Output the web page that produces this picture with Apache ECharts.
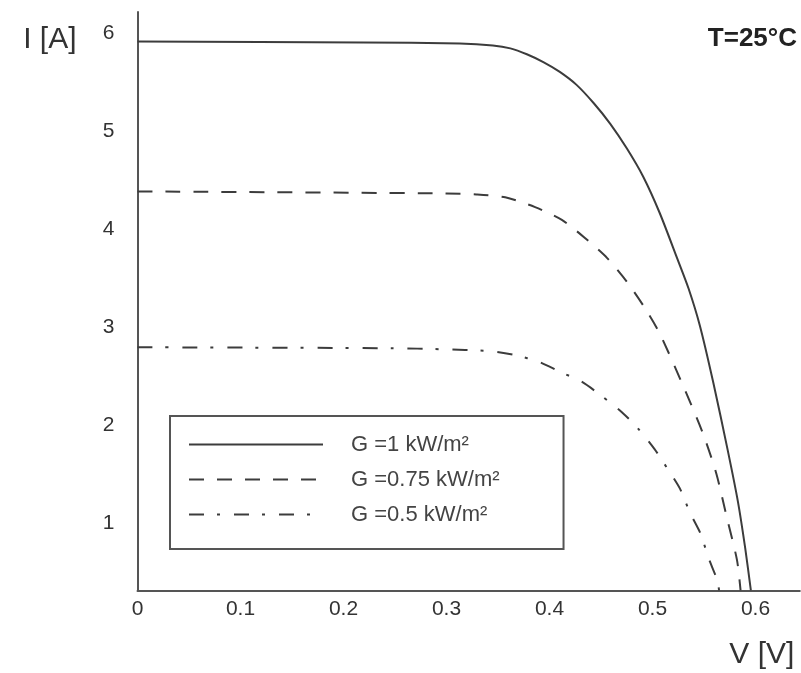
<!DOCTYPE html>
<html>
<head>
<meta charset="utf-8">
<script src="https://cdn.jsdelivr.net/npm/echarts@6/dist/echarts.min.js"></script>
<style>
  html, body { margin: 0; padding: 0; background: #fff; }
  #chart { width: 801px; height: 673px; }
</style>
</head>
<body>
<div id="chart"></div>
<script>
// I-V characteristics of a solar cell at three irradiance levels (T = 25 °C)
const seriesNames = ['G =1 kW/m²', 'G =0.75 kW/m²', 'G =0.5 kW/m²'];

// [V, I] pairs for G = 1 kW/m²
const curveG100 = [
  [0, 6.00], [0.219, 5.99], [0.313, 5.98], [0.345, 5.96], [0.362, 5.93],
  [0.378, 5.87], [0.394, 5.79], [0.410, 5.69], [0.426, 5.56], [0.443, 5.37],
  [0.459, 5.16], [0.475, 4.91], [0.491, 4.62], [0.507, 4.25], [0.5235, 3.80],
  [0.535, 3.48], [0.546, 3.10], [0.559, 2.52], [0.573, 1.83], [0.583, 1.30],
  [0.590, 0.83], [0.5955, 0.40]
];

// [V, I] pairs for G = 0.75 kW/m²
const curveG075 = [
  [0, 4.47], [0.300, 4.45], [0.329, 4.44], [0.357, 4.41], [0.386, 4.31],
  [0.412, 4.18], [0.435, 3.99], [0.456, 3.79], [0.475, 3.55], [0.492, 3.29],
  [0.507, 3.02], [0.530, 2.48], [0.549, 2.00], [0.562, 1.59], [0.572, 1.15],
  [0.582, 0.71], [0.5855, 0.40]
];

// [V, I] pairs for G = 0.5 kW/m²
const curveG050 = [
  [0, 2.88], [0.249, 2.87], [0.294, 2.86], [0.342, 2.84], [0.3665, 2.80],
  [0.390, 2.73], [0.410, 2.63], [0.431, 2.53], [0.451, 2.38], [0.470, 2.22],
  [0.486, 2.05], [0.502, 1.84], [0.514, 1.65], [0.527, 1.43], [0.536, 1.20],
  [0.547, 0.97], [0.554, 0.74], [0.563, 0.50], [0.5646, 0.40]
];

const xTicks = [0, 0.1, 0.2, 0.3, 0.4, 0.5, 0.6];
const yTicks = [1, 2, 3, 4, 5, 6];

const FONT = "'Liberation Sans', Arial, Helvetica, sans-serif";
const INK = '#3c3c3c';

const chart = echarts.init(document.getElementById('chart'), null, { renderer: 'canvas' });

function curve(name, data, dash) {
  return {
    name: name,
    type: 'line',
    data: data,
    smooth: 0.25,
    symbol: 'none',
    clip: true,
    lineStyle: { color: INK, width: 2, type: dash },
    itemStyle: { color: INK },
    emphasis: { disabled: true }
  };
}

chart.setOption({
  animation: false,
  backgroundColor: '#ffffff',
  textStyle: { fontFamily: FONT },
  grid: { left: 137.5, right: 1.2, top: 12.1, bottom: 82.7, containLabel: false },
  xAxis: {
    type: 'value',
    min: 0,
    max: 0.643,
    name: 'V [V]',
    nameLocation: 'end',
    nameGap: -38,
    nameTextStyle: {
      fontFamily: FONT, fontSize: 30, color: '#333',
      align: 'center', verticalAlign: 'top', padding: [49, 0, 0, 0]
    },
    axisLine: { show: true, lineStyle: { color: '#555', width: 2 } },
    axisTick: { show: false },
    splitLine: { show: false },
    axisLabel: {
      customValues: xTicks,
      formatter: v => (v === 0 ? '0' : v.toFixed(1)),
      fontFamily: FONT, fontSize: 21, color: '#333', margin: 8
    }
  },
  yAxis: {
    type: 'value',
    min: 0.4,
    max: 6.3,
    name: 'I [A]',
    nameLocation: 'end',
    nameGap: -28,
    nameTextStyle: {
      fontFamily: FONT, fontSize: 30, color: '#333',
      align: 'right', verticalAlign: 'middle', padding: [0, 61, 0, 0]
    },
    axisLine: { show: true, onZero: false, lineStyle: { color: '#555', width: 2 } },
    axisTick: { show: false },
    splitLine: { show: false },
    axisLabel: {
      customValues: yTicks,
      fontFamily: FONT, fontSize: 21, color: '#333', margin: 23,
      verticalAlign: 'bottom', lineHeight: 17
    }
  },
  legend: {
    orient: 'vertical',
    align: 'left',
    left: 170,
    top: 416,
    padding: [11, 64, 17, 18],
    itemGap: 0,
    itemWidth: 134,
    itemHeight: 1,
    itemStyle: { opacity: 0 },
    borderColor: '#555',
    borderWidth: 2,
    selectedMode: false,
    data: seriesNames,
    textStyle: {
      fontFamily: FONT, fontSize: 22, color: '#444',
      lineHeight: 35, padding: [0, 0, 0, 23]
    }
  },
  graphic: [{
    type: 'text',
    right: 4,
    top: 26,
    style: {
      text: 'T=25°C',
      fontFamily: FONT,
      fontSize: 26,
      fontWeight: 'bold',
      fill: '#222'
    }
  }],
  series: [
    curve(seriesNames[0], curveG100, 'solid'),
    curve(seriesNames[1], curveG075, [15, 13]),
    curve(seriesNames[2], curveG050, [15, 13, 3, 14])
  ]
});
</script>
</body>
</html>
